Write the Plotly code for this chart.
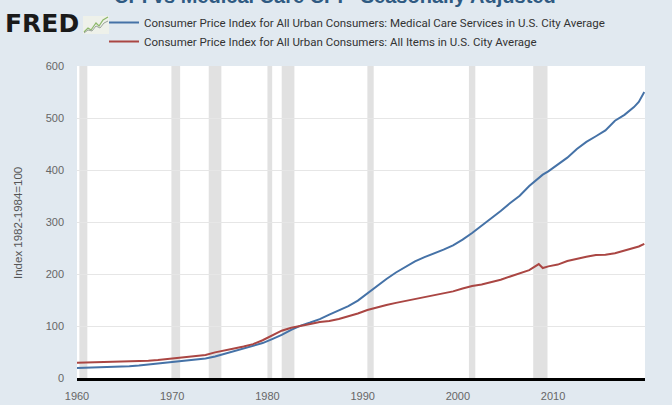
import plotly.graph_objects as go

# ---- data ----
dates = [
    "1960-01-01", "1960-07-01", "1961-07-01", "1962-07-01", "1963-07-01", "1964-07-01",
    "1965-07-01", "1966-07-01", "1967-07-01", "1968-07-01", "1969-07-01", "1970-07-01",
    "1971-07-01", "1972-07-01", "1973-07-01", "1974-07-01", "1975-07-01", "1976-07-01",
    "1977-07-01", "1978-07-01", "1979-07-01", "1980-07-01", "1981-07-01", "1982-07-01",
    "1983-07-01", "1984-07-01", "1985-07-01", "1986-07-01", "1987-07-01", "1988-07-01",
    "1989-07-01", "1990-07-01", "1991-07-01", "1992-07-01", "1993-07-01", "1994-07-01",
    "1995-07-01", "1996-07-01", "1997-07-01", "1998-07-01", "1999-07-01", "2000-07-01",
    "2001-07-01", "2002-07-01", "2003-07-01", "2004-07-01", "2005-07-01", "2006-07-01",
    "2007-07-01", "2008-07-01", "2008-12-01", "2009-07-01", "2010-07-01", "2011-07-01",
    "2012-07-01", "2013-07-01", "2014-07-01", "2015-07-01", "2016-07-01", "2017-07-01",
    "2018-07-01", "2019-01-01", "2019-08-01",
]

medical_services = [
    19.3, 19.5, 20.2, 20.9, 21.5, 22.0,
    22.7, 23.9, 26.0, 27.9, 30.2, 32.3,
    34.7, 35.9, 37.5, 41.4, 46.6, 51.3,
    56.4, 61.2, 67.2, 74.8, 82.8, 92.6,
    100.7, 106.7, 113.2, 121.9, 130.0, 138.3,
    148.9, 162.7, 177.1, 190.5, 202.9, 213.4,
    224.2, 232.4, 239.1, 246.8, 255.1, 266.0,
    278.8, 292.9, 306.0, 321.3, 336.7, 350.6,
    369.3, 385.5, 391.0, 397.5, 411.2, 423.8,
    440.4, 454.0, 464.9, 476.2, 494.8, 506.0,
    521.0, 531.0, 550.0,
]

all_items = [
    29.4, 29.6, 29.9, 30.2, 30.6, 31.0,
    31.5, 32.4, 33.4, 34.8, 36.7, 38.8,
    40.5, 41.8, 44.4, 49.3, 53.8, 56.9,
    60.6, 65.2, 72.6, 82.4, 90.9, 96.5,
    99.6, 103.9, 107.6, 109.6, 113.6, 118.3,
    124.0, 130.7, 136.2, 140.3, 144.5, 148.2,
    152.4, 156.9, 160.5, 163.0, 166.6, 172.2,
    177.1, 179.9, 184.0, 188.9, 195.3, 201.6,
    207.3, 219.0, 211.4, 214.7, 218.1, 224.9,
    229.6, 233.0, 236.7, 237.0, 240.0, 245.1,
    251.1, 253.0, 258.0,
]

recession_starts = ["1960-04-01", "1969-12-01", "1973-11-01", "1980-01-01",
                    "1981-07-01", "1990-07-01", "2001-03-01", "2007-12-01"]
recession_ends = ["1961-02-01", "1970-11-01", "1975-03-01", "1980-07-01",
                  "1982-11-01", "1991-03-01", "2001-11-01", "2009-06-01"]

series_names = [
    "Consumer Price Index for All Urban Consumers: Medical Care Services in U.S. City Average",
    "Consumer Price Index for All Urban Consumers: All Items in U.S. City Average",
]
title_text = "CPI vs Medical Care CPI - Seasonally Adjusted"
y_title = "Index 1982-1984=100"

# ---- layout geometry ----
W, H = 672, 405
ML, MR, MT, MB = 77, 27, 66, 27
PW, PH = W - ML - MR, H - MT - MB


def px(xp):
    return (xp - ML) / PW


def py(yp):
    return (H - MB - yp) / PH


fig = go.Figure()
fig.add_trace(go.Scatter(x=dates, y=medical_services, mode="lines",
                         name=series_names[0], line=dict(color="#4572a7", width=2)))
fig.add_trace(go.Scatter(x=dates, y=all_items, mode="lines",
                         name=series_names[1], line=dict(color="#aa4643", width=2)))

shapes = []
for s, e in zip(recession_starts, recession_ends):
    shapes.append(dict(type="rect", xref="x", yref="paper", x0=s, x1=e, y0=0, y1=1,
                       fillcolor="#e1e1e1", line=dict(width=0), layer="between"))

# FRED logo icon
shapes.append(dict(type="rect", xref="paper", yref="paper",
                   x0=px(83), x1=px(109), y0=py(34), y1=py(16),
                   fillcolor="#eef1ea", line=dict(width=0)))
icon_pts = [(84, 32), (88, 28), (91, 30), (96, 23), (99, 26), (103, 20), (108, 17)]
path = "M " + " L ".join(f"{px(a):.5f},{py(b):.5f}" for a, b in icon_pts)
shapes.append(dict(type="path", xref="paper", yref="paper", path=path,
                   line=dict(color="#8db86a", width=1.2)))
icon_pts2 = [(84, 33), (88, 30), (92, 31), (96, 26), (100, 28), (104, 23), (108, 21)]
path2 = "M " + " L ".join(f"{px(a):.5f},{py(b):.5f}" for a, b in icon_pts2)
shapes.append(dict(type="path", xref="paper", yref="paper", path=path2,
                   line=dict(color="#9aa39a", width=1)))

annotations = [
    dict(text=f"<b>{title_text}</b>", xref="paper", yref="paper",
         x=px(335), y=py(9), xanchor="center", yanchor="bottom", showarrow=False,
         font=dict(family="Liberation Sans, Arial, sans-serif", size=20, color="#2f5a82")),
    dict(text="<b>FRED</b>", xref="paper", yref="paper",
         x=px(3), y=py(40), xanchor="left", yanchor="bottom", showarrow=False,
         font=dict(family="DejaVu Sans, Arial, sans-serif", size=25, color="#1a1a1a")),
    dict(text=y_title, xref="paper", yref="paper", x=px(18), y=py(223),
         xanchor="center", yanchor="middle", textangle=-90, showarrow=False,
         font=dict(family="Liberation Sans, Arial, sans-serif", size=11.5, color="#555555")),
]

fig.update_layout(
    width=W, height=H,
    margin=dict(l=ML, r=MR, t=MT, b=MB, autoexpand=False),
    paper_bgcolor="#e1e9f0", plot_bgcolor="#ffffff",
    showlegend=True,
    legend=dict(x=px(104), y=py(8), xanchor="left", yanchor="top",
                bgcolor="rgba(0,0,0,0)", tracegroupgap=0,
                font=dict(family="Roboto, Arial, sans-serif", size=11.5, color="#333333")),
    shapes=shapes,
    annotations=annotations,
    xaxis=dict(type="date", range=["1960-01-01", "2019-08-28"],
               tick0="1960-01-01", dtick="M120", tickformat="%Y",
               showgrid=False, zeroline=False, ticks="",
               showline=True, linecolor="#000000", linewidth=3,
               ticklabelstandoff=6,
               tickfont=dict(family="Liberation Sans, Arial, sans-serif", size=11, color="#666666")),
    yaxis=dict(range=[0, 600], dtick=100, showgrid=True, gridcolor="#e6e6e6",
               zeroline=False, showline=False, ticks="",
               ticklabelstandoff=12,
               tickfont=dict(family="Liberation Sans, Arial, sans-serif", size=11, color="#666666")),
)

fig.write_html("out.html",
               config={"displayModeBar": False},
               post_script="document.body.style.margin='0';document.body.style.padding='0';"
                           "document.body.style.background='#e1e9f0';")
